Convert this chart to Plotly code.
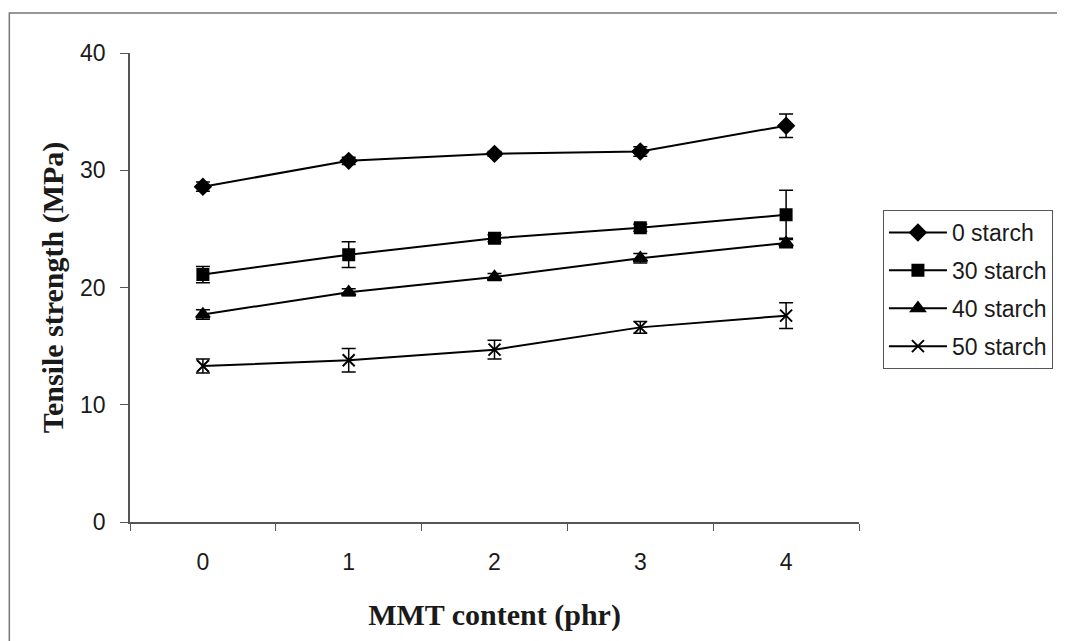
import plotly.graph_objects as go

mmt = ["0", "1", "2", "3", "4"]
series_names = ["0 starch", "30 starch", "40 starch", "50 starch"]
ts_0 = [28.6, 30.8, 31.4, 31.6, 33.8]
ts_30 = [21.1, 22.8, 24.2, 25.1, 26.2]
ts_40 = [17.7, 19.6, 20.9, 22.5, 23.8]
ts_50 = [13.3, 13.8, 14.7, 16.6, 17.6]
err_0 = [0.4, 0.3, 0.2, 0.4, 1.0]
err_30 = [0.7, 1.1, 0.3, 0.3, 2.1]
err_40 = [0.4, 0.3, 0.3, 0.4, 0.4]
err_50 = [0.6, 1.0, 0.8, 0.5, 1.1]

values = [ts_0, ts_30, ts_40, ts_50]
errors = [err_0, err_30, err_40, err_50]
symbols = ["diamond", "square", "triangle-up", "x-thin-open"]
sizes = [12, 11, 12, 12]

fig = go.Figure()
for name, v, e, s, sz in zip(series_names, values, errors, symbols, sizes):
    fig.add_trace(go.Scatter(
        x=mmt, y=v, name=name, mode="lines+markers",
        line=dict(color="black", width=2),
        marker=dict(symbol=s, size=sz, color="black",
                    line=dict(color="black", width=2)),
        error_y=dict(type="data", array=e, visible=True,
                     color="black", thickness=1.5, width=7),
        legendgroup=name,
    ))

OFF = 8  # page body margin
W, H = 1065 - OFF, 641 - OFF
L, R = 130 - OFF, W - (861 - OFF)
T, B = 53 - OFF, H - (522 - OFF)
pw, ph = W - L - R, H - T - B

def px(x):
    return (x - OFF - L) / pw

def py(y):
    return (H - B - (y - OFF)) / ph

fig.add_shape(type="rect", xref="paper", yref="paper",
              x0=px(9), x1=px(1085), y0=py(13), y1=py(660),
              line=dict(color="#777777", width=1.5), fillcolor="rgba(0,0,0,0)",
              layer="below")

tickfont = dict(family="Liberation Sans, Arial", size=23, color="#1a1a1a")
titlefont = dict(family="Liberation Serif, Times New Roman", size=30, color="#1a1a1a")

fig.update_layout(
    width=W, height=H,
    margin=dict(l=L, r=R, t=T, b=B),
    paper_bgcolor="white", plot_bgcolor="white",
    font=dict(family="Liberation Sans, Arial", size=22, color="#1a1a1a"),
    showlegend=True,
    legend=dict(x=px(885), y=py(210), xanchor="left", yanchor="top",
                bordercolor="#555555", borderwidth=1, bgcolor="white",
                font=dict(size=23, family="Liberation Sans, Arial", color="#1a1a1a"),
                traceorder="grouped", tracegroupgap=5, itemwidth=58),
    xaxis=dict(type="category", categoryorder="array", categoryarray=mmt,
               range=[-0.5, 4.5], tickson="boundaries",
               ticks="outside", ticklen=7, tickcolor="#555555",
               tickfont=tickfont, ticklabelstandoff=19,
               showline=True, linecolor="#555555", linewidth=1.5,
               showgrid=False, zeroline=False,
               title=dict(text="<b>MMT content (phr)</b>", font=titlefont,
                          standoff=30)),
    yaxis=dict(range=[0, 40], dtick=10, ticks="outside", ticklen=8,
               tickcolor="#555555", tickfont=tickfont, ticklabelstandoff=10,
               showline=True, linecolor="#555555",
               linewidth=1.5, showgrid=False, zeroline=False,
               title=dict(text="<b>Tensile strength (MPa)</b>", font=titlefont,
                          standoff=8)),
)

fig.write_html("out.html")
